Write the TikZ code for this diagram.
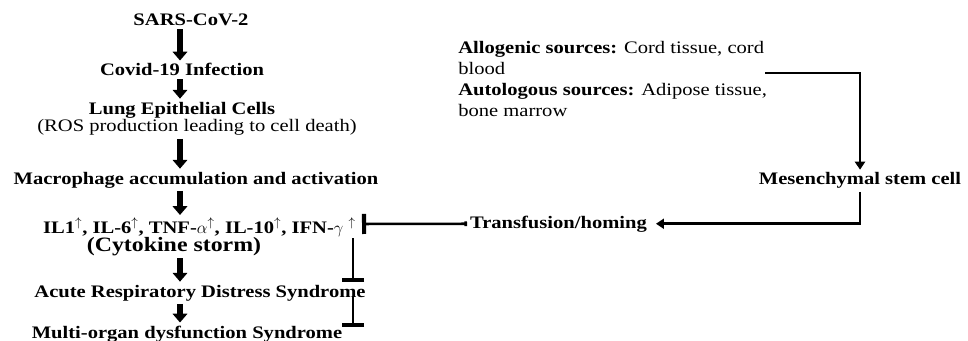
\documentclass[tikz,border=0pt]{standalone}
\usepackage{fontspec}
\setmainfont[FakeStretch=1.17]{Liberation Serif}
\usetikzlibrary{arrows.meta}

\begin{document}
\begin{tikzpicture}[
  x=0.025cm, y=-0.025cm,
  btext/.style={inner sep=2pt,font=\fontsize{12.5}{15}\selectfont\bfseries},
  rtext/.style={inner sep=2pt,font=\fontsize{12.5}{15}\selectfont},
  bigarrow/.style={line width=3.8pt,-{Triangle[width=0.36cm,length=0.22cm]}},
  flow/.style={line width=1.8pt,-{Triangle[width=0.25cm,length=0.2cm]}},
  inhib/.style={line width=1.8pt,-{Bar[width=0.55cm,line width=3pt]}}
]
  \useasboundingbox (0,0) rectangle (968,341);
  \coordinate (ax) at (180,0);
  \node[btext,anchor=base] (sars) at (191,26) {SARS-CoV-2};
  \node[btext,anchor=base] (covid) at (182,76) {Covid-19 Infection};
  \node[btext,anchor=base] (lung) at (182,114) {Lung Epithelial Cells};
  \node[rtext,anchor=base] (ros) at (197,132) {(ROS production leading to cell death)};
  \node[btext,anchor=base] (macro) at (196,184) {Macrophage accumulation and activation};
  \node[btext,anchor=base west] (il) at (40,233) {IL1$^{\uparrow}$, IL-6$^{\uparrow}$, TNF-$\alpha^{\uparrow}$, IL-10$^{\uparrow}$, IFN-$\gamma$ $^{\uparrow}$};
  \node[btext,anchor=base,font=\fontsize{14.5}{16}\selectfont\bfseries] (storm) at (174,251) {(Cytokine storm)};
  \node[btext,anchor=base] (ards) at (200,297) {Acute Respiratory Distress Syndrome};
  \node[btext,anchor=base] (mods) at (187,338) {Multi-organ dysfunction Syndrome};
  \node[rtext,anchor=north west,inner sep=0pt,align=left] (src) at (458,41)
    {\textbf{Allogenic sources:} Cord tissue, cord\\ blood\\ \textbf{Autologous sources:} Adipose tissue,\\ bone marrow};
  \node[btext,anchor=base] (msc) at (860,185) {Mesenchymal stem cell};
  \node[btext,anchor=base west] (trans) at (467,228) {Transfusion/homing};
  \coordinate (srcout) at (765,73);
  \coordinate (blk) at (362,224);
  \coordinate (i1) at (353,238);
  \coordinate (i2) at (353,282);
  \coordinate (i3) at (353,296);
  \coordinate (i4) at (353,327);

  \draw[bigarrow] (sars.south -| ax) -- (covid.north -| ax);
  \draw[bigarrow] (covid.south -| ax) -- (lung.north -| ax);
  \draw[bigarrow] (ros.south -| ax) -- (macro.north -| ax);
  \draw[bigarrow] (macro.south -| ax) -- (il.north -| ax);
  \draw[bigarrow] (storm.south -| ax) -- (ards.north -| ax);
  \draw[bigarrow] (ards.south -| ax) -- (mods.north -| ax);
  \draw[flow] (srcout) -| (msc.north);
  \draw[flow,shorten >=0.15cm] (msc.south) |- (trans.east);
  \draw[line width=1.8pt,{Bar[width=0.12cm]}-{Bar[width=0.5cm,line width=3pt]}] (trans.west) -- (blk);
  \draw[inhib] (i1) -- (i2);
  \draw[inhib] (i3) -- (i4);
\end{tikzpicture}
\end{document}
